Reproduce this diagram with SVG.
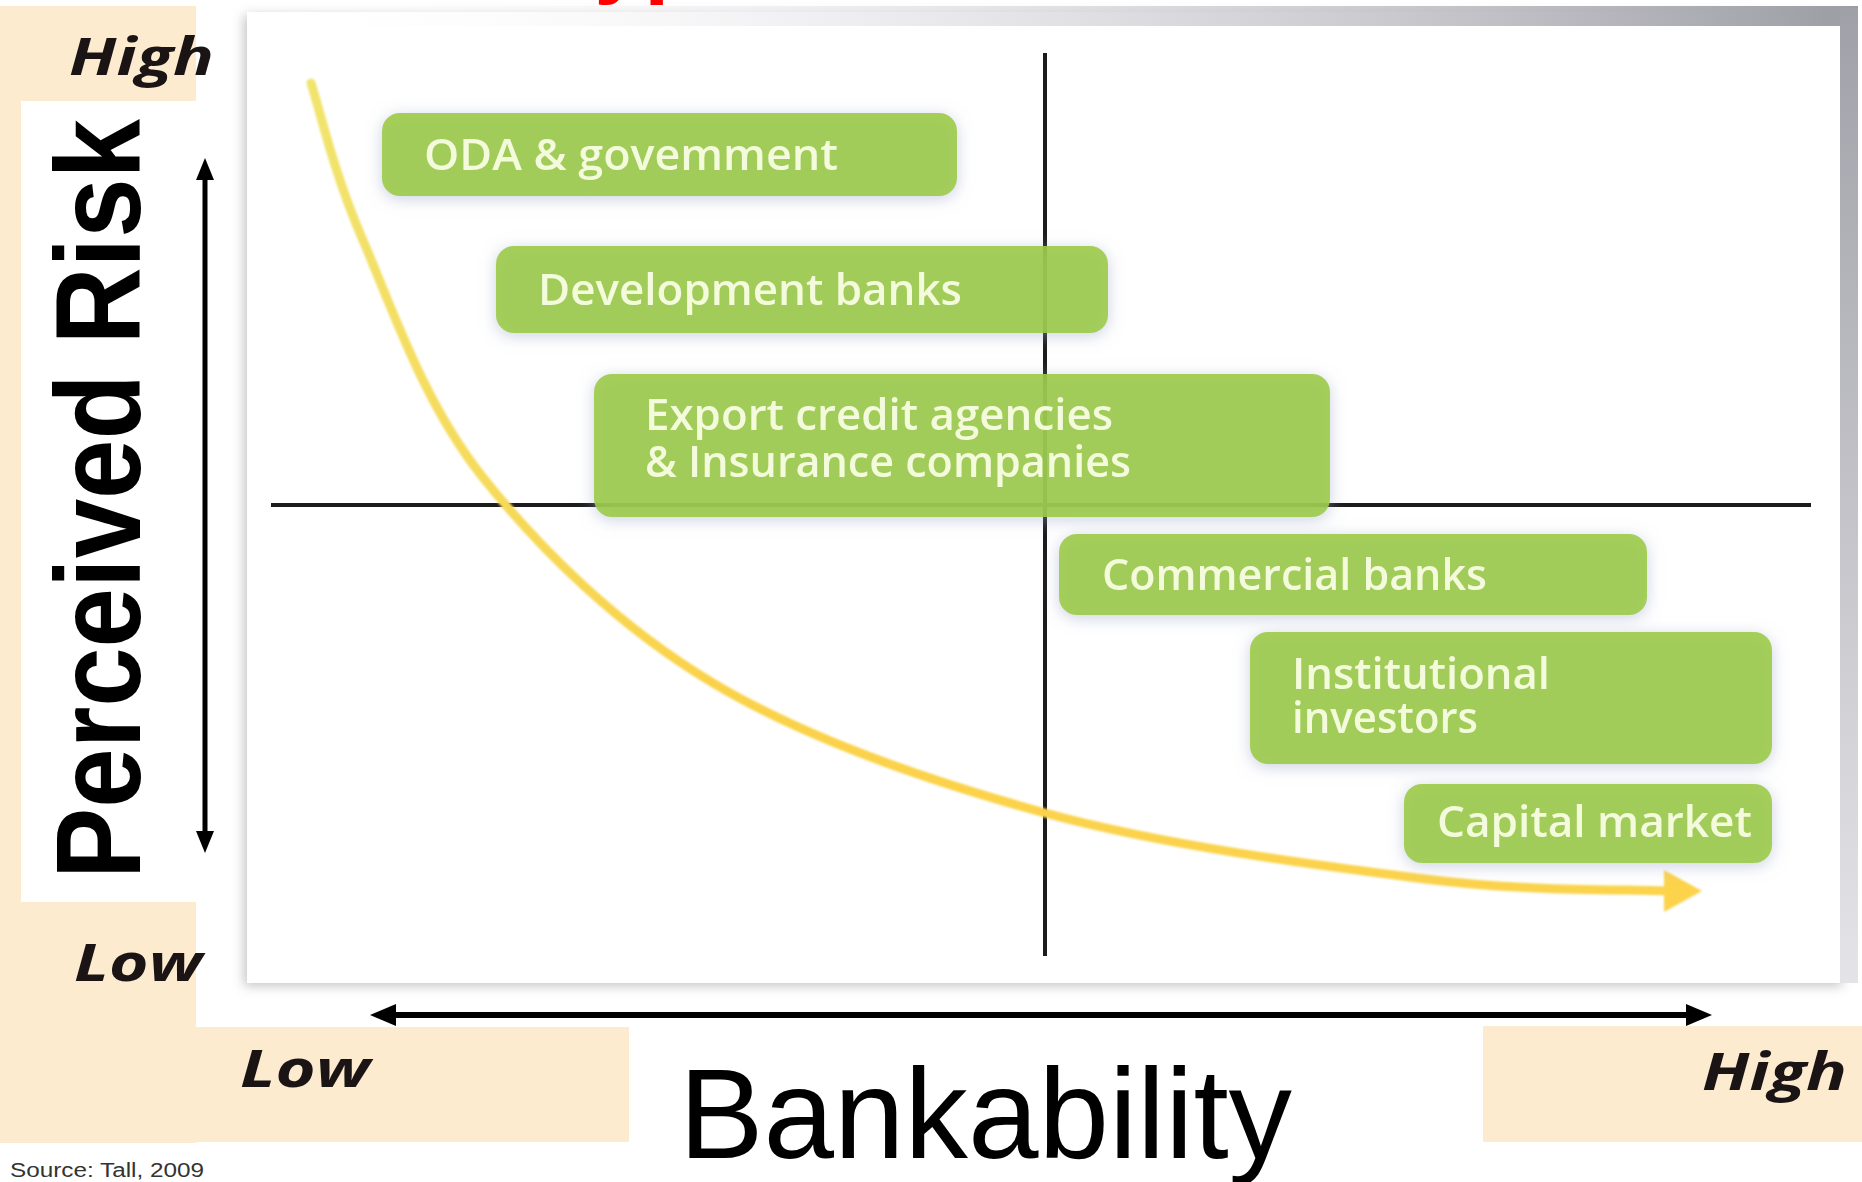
<svg xmlns="http://www.w3.org/2000/svg" width="1862" height="1182" viewBox="0 0 1862 1182">
  <style>
    .beige { fill: #FDEBCF; }
    .box { fill: #9CCB44; fill-opacity: 0.9; }
    .lbl { font-family: "Open Sans", "Noto Sans", sans-serif; font-weight: 600; font-size: 44px; fill: #F4FBDD; }
    .scale { font-family: "Open Sans", "Liberation Sans", sans-serif; font-weight: 700; font-style: italic; font-size: 52px; fill: #1a1414; }
    .axis { font-family: "Liberation Sans", Arial, sans-serif; fill: #000; }
    .quad { stroke: #1c1c1c; stroke-width: 4; fill: none; }
  </style>
  <defs>
    <filter id="panelShadow" x="-5%" y="-5%" width="110%" height="110%">
      <feDropShadow dx="-3" dy="3" stdDeviation="6" flood-color="#7a7a80" flood-opacity="0.45"/>
    </filter>
    <filter id="boxShadow" x="-10%" y="-30%" width="120%" height="160%">
      <feDropShadow dx="0" dy="3" stdDeviation="8" flood-color="#9aa4c4" flood-opacity="0.55"/>
    </filter>
    <filter id="soft" x="-5%" y="-5%" width="110%" height="110%">
      <feGaussianBlur stdDeviation="1.2"/>
    </filter>
    <linearGradient id="topBar" x1="247" y1="0" x2="1858" y2="0" gradientUnits="userSpaceOnUse">
      <stop offset="0" stop-color="#ffffff" stop-opacity="0"/>
      <stop offset="0.35" stop-color="#e6e6ea" stop-opacity="0.6"/>
      <stop offset="1" stop-color="#9c9ca4"/>
    </linearGradient>
    <linearGradient id="rightBar" x1="0" y1="8" x2="0" y2="983" gradientUnits="userSpaceOnUse">
      <stop offset="0" stop-color="#a0a0a8"/>
      <stop offset="1" stop-color="#e4e4e8"/>
    </linearGradient>
    <linearGradient id="curveGrad" x1="311" y1="83" x2="1700" y2="891" gradientUnits="userSpaceOnUse">
      <stop offset="0" stop-color="#F1E46E"/>
      <stop offset="0.4" stop-color="#FAD24A"/>
      <stop offset="1" stop-color="#FCD34C"/>
    </linearGradient>
    <marker id="headH" viewBox="0 0 26 22" refX="4" refY="11" markerWidth="26" markerHeight="22" markerUnits="userSpaceOnUse" orient="auto-start-reverse">
      <path d="M0,0 L26,11 L0,22 z" fill="#000"/>
    </marker>
    <marker id="headV" viewBox="0 0 22 18" refX="4" refY="9" markerWidth="22" markerHeight="18" markerUnits="userSpaceOnUse" orient="auto-start-reverse">
      <path d="M0,0 L22,9 L0,18 z" fill="#000"/>
    </marker>
  </defs>

  <!-- page background -->
  <rect x="0" y="0" width="1862" height="1182" fill="#ffffff"/>

  <!-- title, running off the top edge -->
  <text x="546" y="-14" font-family="Liberation Sans, Arial, sans-serif" font-weight="700" font-size="90" fill="#ff0000">Types</text>

  <!-- beige scale bands -->
  <g id="bands">
    <rect class="beige" x="0" y="6" width="196" height="1137"/>
    <rect class="beige" x="196" y="1027" width="433" height="115"/>
    <rect class="beige" x="1483" y="1026" width="379" height="116"/>
    <rect x="21" y="101" width="176" height="801" fill="#ffffff"/>
  </g>

  <!-- chart panel -->
  <g id="panel">
    <rect x="247" y="12" width="1598" height="971" fill="#ffffff" filter="url(#panelShadow)"/>
    <rect x="247" y="6" width="1611" height="20" fill="url(#topBar)"/>
    <rect x="1840" y="8" width="18" height="975" fill="url(#rightBar)"/>
  </g>

  <!-- axes, quadrant lines and trend curve -->
  <g id="connectors">
    <line class="quad" x1="1045" y1="53" x2="1045" y2="956"/>
    <line class="quad" x1="271" y1="505" x2="1811" y2="505"/>
    <line x1="205" y1="176" x2="205" y2="835" stroke="#000" stroke-width="5" marker-start="url(#headV)" marker-end="url(#headV)"/>
    <line x1="392" y1="1015" x2="1690" y2="1015" stroke="#000" stroke-width="6" marker-start="url(#headH)" marker-end="url(#headH)"/>
    <g filter="url(#soft)">
      <path d="M311,83 C319.5,108.8 333.7,172.7 362,238 C390.3,303.3 422.5,400.8 481,475 C539.5,549.2 619,626.7 713,683 C807,739.3 926.3,780.3 1045,813 C1163.7,845.7 1322,866 1425,879 C1528,892 1623,889 1668,891" fill="none" stroke="url(#curveGrad)" stroke-width="9" stroke-linecap="round"/>
      <path d="M1664,870 L1702,891 L1664,912 z" fill="#FCD34C"/>
    </g>
  </g>

  <!-- financier nodes -->
  <g id="node-oda" filter="url(#boxShadow)">
    <rect class="box" x="382" y="113" width="575" height="83" rx="18"/>
    <text class="lbl" x="424" y="170" textLength="414" lengthAdjust="spacingAndGlyphs">ODA &amp; govemment</text>
  </g>
  <g id="node-development" filter="url(#boxShadow)">
    <rect class="box" x="496" y="246" width="612" height="87" rx="18"/>
    <text class="lbl" x="538" y="305" textLength="424" lengthAdjust="spacingAndGlyphs">Development banks</text>
  </g>
  <g id="node-export" filter="url(#boxShadow)">
    <rect class="box" x="594" y="374" width="736" height="143" rx="18"/>
    <text class="lbl"><tspan x="645" y="430" textLength="468" lengthAdjust="spacingAndGlyphs">Export credit agencies</tspan><tspan x="645" y="477" textLength="486" lengthAdjust="spacingAndGlyphs">&amp; Insurance companies</tspan></text>
  </g>
  <g id="node-commercial" filter="url(#boxShadow)">
    <rect class="box" x="1059" y="534" width="588" height="81" rx="18"/>
    <text class="lbl" x="1102" y="590" textLength="385" lengthAdjust="spacingAndGlyphs">Commercial banks</text>
  </g>
  <g id="node-institutional" filter="url(#boxShadow)">
    <rect class="box" x="1250" y="632" width="522" height="132" rx="18"/>
    <text class="lbl"><tspan x="1292" y="689" textLength="258" lengthAdjust="spacingAndGlyphs">Institutional</tspan><tspan x="1292" y="733" textLength="186" lengthAdjust="spacingAndGlyphs">investors</tspan></text>
  </g>
  <g id="node-capital" filter="url(#boxShadow)">
    <rect class="box" x="1404" y="784" width="368" height="79" rx="18"/>
    <text class="lbl" x="1437" y="837" textLength="315" lengthAdjust="spacingAndGlyphs">Capital market</text>
  </g>

  <!-- scale labels -->
  <g id="labels">
    <text class="scale" x="69" y="75" textLength="145" lengthAdjust="spacingAndGlyphs">High</text>
    <text class="scale" x="74" y="981" textLength="128" lengthAdjust="spacingAndGlyphs">Low</text>
    <text class="scale" x="240" y="1087" textLength="130" lengthAdjust="spacingAndGlyphs">Low</text>
    <text class="scale" x="1702" y="1090" textLength="145" lengthAdjust="spacingAndGlyphs">High</text>
    <text class="axis" transform="translate(140,879) rotate(-90)" font-weight="700" font-size="121" textLength="760" lengthAdjust="spacingAndGlyphs">Perceived Risk</text>
    <text class="axis" x="679" y="1158" font-size="128" textLength="613" lengthAdjust="spacingAndGlyphs">Bankability</text>
    <text x="10" y="1177" font-family="Liberation Sans Narrow, Liberation Sans, sans-serif" font-size="20" fill="#333" textLength="194" lengthAdjust="spacingAndGlyphs">Source: Tall, 2009</text>
  </g>
</svg>
